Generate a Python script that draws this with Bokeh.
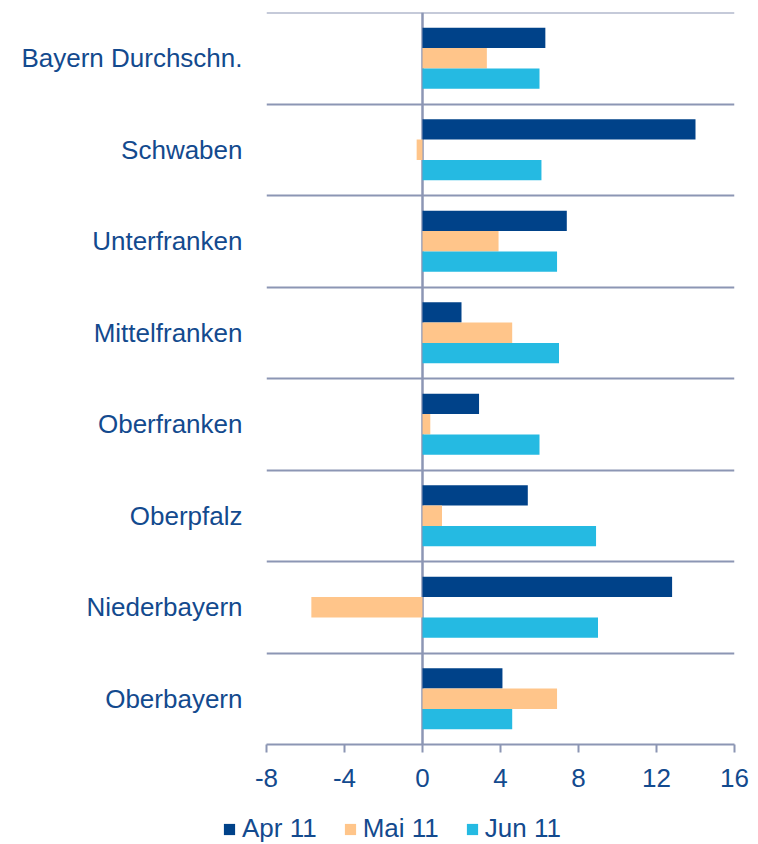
from bokeh.plotting import figure
from bokeh.models import ColumnDataSource, FixedTicker, Span, Legend, LegendItem, Range1d
from bokeh.embed import file_html
from bokeh.resources import INLINE

# ---- data ----
categories = ["Bayern Durchschn.", "Schwaben", "Unterfranken", "Mittelfranken",
              "Oberfranken", "Oberpfalz", "Niederbayern", "Oberbayern"]
apr_11 = [6.3, 14.0, 7.4, 2.0, 2.9, 5.4, 12.8, 4.1]
mai_11 = [3.3, -0.3, 3.9, 4.6, 0.4, 1.0, -5.7, 6.9]
jun_11 = [6.0, 6.1, 6.9, 7.0, 6.0, 8.9, 9.0, 4.6]
series_names = ["Apr 11", "Mai 11", "Jun 11"]
x_ticks = [-8, -4, 0, 4, 8, 12, 16]
x_tick_labels = ["-8", "-4", "0", "4", "8", "12", "16"]

# ---- style ----
colors = ["#004289", "#ffc58a", "#25bae2"]
text_col = "#134a8e"
grid_col = "#8c96b4"
font = "Liberation Sans"
fsize = "26px"

n = len(categories)
centers = [n - i - 0.5 for i in range(n)]
bar_h = 0.222
offsets = [bar_h, 0.0, -bar_h]

p = figure(width=750, height=800, output_backend="svg", toolbar_location=None,
           x_range=Range1d(-8, 16), y_range=Range1d(0, n),
           min_border_left=266, min_border_right=16, min_border_top=12,
           min_border_bottom=56)
p.outline_line_color = None
p.background_fill_color = "white"

sources = []
for vals, off, col in zip([apr_11, mai_11, jun_11], offsets, colors):
    src = ColumnDataSource(dict(y=[c + off for c in centers], right=vals,
                                left=[0] * n))
    sources.append(src)
    p.hbar(y="y", left="left", right="right", height=bar_h, source=src,
           fill_color=col, line_color=None)

# grid: horizontal lines at category boundaries
p.xgrid.visible = False
p.ygrid.ticker = FixedTicker(ticks=list(range(n + 1)))
p.ygrid.grid_line_color = grid_col
p.ygrid.grid_line_width = 2
p.add_layout(Span(location=n, dimension="width", line_color=grid_col,
                  line_width=2, level="underlay"))

# zero line
p.add_layout(Span(location=0, dimension="height", line_color=grid_col,
                  line_width=2.5, level="underlay"))

# y axis (category labels)
p.yaxis.ticker = FixedTicker(ticks=centers)
p.yaxis.major_label_overrides = {c: name for c, name in zip(centers, categories)}
p.yaxis.axis_line_color = None
p.yaxis.major_tick_line_color = None
p.yaxis.major_tick_out = 0
p.yaxis.major_tick_in = 0
p.yaxis.minor_tick_line_color = None
p.yaxis.major_label_standoff = 24
p.yaxis.major_label_text_font = font
p.yaxis.major_label_text_font_size = fsize
p.yaxis.major_label_text_color = text_col

# x axis
p.xaxis.ticker = FixedTicker(ticks=x_ticks)
p.xaxis.major_label_overrides = {t: l for t, l in zip(x_ticks, x_tick_labels)}
p.xaxis.axis_line_color = grid_col
p.xaxis.axis_line_width = 2
p.xaxis.major_tick_line_color = grid_col
p.xaxis.major_tick_line_width = 2
p.xaxis.major_tick_out = 8
p.xaxis.major_tick_in = 0
p.xaxis.minor_tick_line_color = None
p.xaxis.major_label_standoff = 16
p.xaxis.major_label_text_font = font
p.xaxis.major_label_text_font_size = fsize
p.xaxis.major_label_text_color = text_col

# ---- legend strip (separate root under the chart) ----
lg = figure(width=750, height=44, output_backend="svg", toolbar_location=None,
            x_range=Range1d(-8, 16), y_range=Range1d(0, n),
            x_axis_location=None, y_axis_location=None,
            min_border_left=0, min_border_right=0, min_border_top=0,
            min_border_bottom=0)
lg.outline_line_color = None
lg.grid.visible = False
items = []
for nm, col, src in zip(series_names, colors, sources):
    r = lg.hbar(y="y", left="left", right="right", height=bar_h, source=src,
                fill_color=col, line_color=None, visible=False)
    items.append(LegendItem(label=nm, renderers=[r]))
legend = Legend(items=items, orientation="horizontal", location=(222, 0),
                glyph_width=14, glyph_height=14, label_standoff=6, spacing=26,
                padding=0, margin=0, border_line_color=None,
                background_fill_alpha=0, click_policy="none",
                label_text_font=font, label_text_font_size=fsize,
                label_text_color=text_col)
lg.add_layout(legend, "center")

open("out.html", "w").write(file_html([p, lg], INLINE))
